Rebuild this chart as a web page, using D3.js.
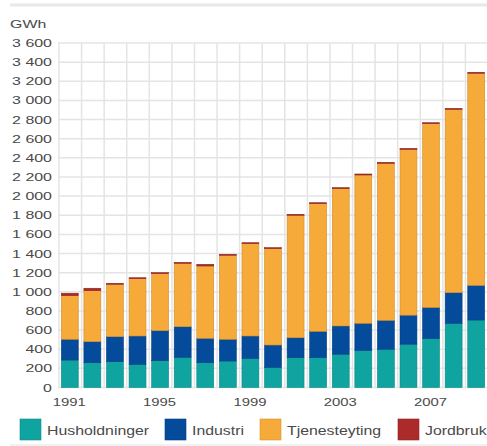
<!DOCTYPE html>
<html><head><meta charset="utf-8">
<script src="https://cdn.jsdelivr.net/npm/d3@7"></script>
<style>html,body{margin:0;padding:0;background:#fff;}svg{display:block;font-family:"Liberation Sans",Arial,sans-serif;}</style>
</head><body>
<svg id="c" width="487" height="446"></svg>
<script>
const years = [1991,1992,1993,1994,1995,1996,1997,1998,1999,2000,2001,2002,2003,2004,2005,2006,2007,2008,2009];
const husholdninger = [287,259,270,242,280,316,259,277,305,211,312,312,348,388,400,453,512,671,705];
const industri = [217,220,261,296,314,319,255,227,233,233,208,275,295,283,302,303,324,320,362];
const tjenesteyting = [456,533,548,599,596,663,756,878,965,1007,1280,1334,1435,1550,1641,1733,1921,1916,2217];
const jordbruk = [25,25,10,10,10,10,17,10,10,10,10,10,10,10,10,10,10,10,10];
const seriesNames = ["Husholdninger","Industri","Tjenesteyting","Jordbruk"];
const colors = ["#10a4a1","#044b9b","#f6aa3a","#ab2a2a"];
const yTicks = [0,200,400,600,800,1000,1200,1400,1600,1800,2000,2200,2400,2600,2800,3000,3200,3400,3600];
const xLabelYears = [1991,1995,1999,2003,2007];
const unitLabel = "GWh";

const svg = d3.select("#c");
const x = d3.scaleBand().domain(years).range([58,487]).padding(0);
const y = d3.scaleLinear().domain([0,3600]).range([387.5,43]);
const loc = d3.formatLocale({decimal:",",thousands:"\u2009",grouping:[3],currency:["",""]});
const fmt = v => loc.format(",")(v).replace("\u2009"," ");

// frame lines
svg.append("line").attr("x1",10).attr("x2",487).attr("y1",5).attr("y2",5).attr("stroke","#e8e8e8").attr("stroke-width",3);
svg.append("line").attr("x1",10).attr("x2",487).attr("y1",445).attr("y2",445).attr("stroke","#ececec").attr("stroke-width",1.5);

// grid
const g = svg.append("g");
g.selectAll("line.h").data(yTicks).join("line")
  .attr("x1",58).attr("x2",487).attr("y1",d=>y(d)).attr("y2",d=>y(d))
  .attr("stroke","#e4e4e4").attr("stroke-width",1.5);
const bounds = years.map(d=>x(d));
g.selectAll("line.v").data(bounds).join("line")
  .attr("x1",d=>d+1).attr("x2",d=>d+1).attr("y1",y(3600)).attr("y2",y(0))
  .attr("stroke","#e4e4e4").attr("stroke-width",1.5);

// stacked data
const rows = years.map((yr,i)=>({year:yr,Husholdninger:husholdninger[i],Industri:industri[i],Tjenesteyting:tjenesteyting[i],Jordbruk:jordbruk[i]}));
const stack = d3.stack().keys(seriesNames)(rows);
const bw = x.bandwidth()*0.75;
const off = (x.bandwidth()-bw)/2 + 0.5;
svg.append("g").selectAll("g").data(stack).join("g")
  .attr("fill",(d,i)=>colors[i])
  .attr("stroke",(d,i)=>d3.color(colors[i]).darker(0.5))
  .attr("stroke-width",0.6)
  .selectAll("rect").data(d=>d).join("rect")
  .attr("x",d=>x(d.data.year)+off).attr("width",bw)
  .attr("y",d=>y(d[1])).attr("height",d=>y(d[0])-y(d[1]));

// y labels
const txt = "#4a4a4a";
svg.append("g").selectAll("text").data(yTicks).join("text")
  .attr("transform",d=>`translate(52,${y(d)+4}) scale(1.45,1)`)
  .attr("text-anchor","end").attr("font-size",11).attr("fill",txt).text(d=>fmt(d));
svg.append("text").attr("transform","translate(10,28) scale(1.45,1)")
  .attr("font-size",11).attr("fill",txt).text(unitLabel);

// x labels
svg.append("g").selectAll("text").data(xLabelYears).join("text")
  .attr("transform",d=>`translate(${x(d)+x.bandwidth()/2},406) scale(1.35,1)`)
  .attr("text-anchor","middle").attr("font-size",11).attr("fill",txt).text(d=>d);

// legend
const legX = [20,165,260,398];
const leg = svg.append("g").selectAll("g").data(seriesNames).join("g")
  .attr("transform",(d,i)=>`translate(${legX[i]},419)`);
leg.append("rect").attr("width",21).attr("height",21).attr("fill",(d,i)=>colors[i])
  .attr("stroke",(d,i)=>d3.color(colors[i]).darker(0.4)).attr("stroke-width",0.6);
leg.append("text").attr("transform","translate(27,16) scale(1.32,1)")
  .attr("font-size",12).attr("fill",txt).text(d=>d);
</script>
</body></html>
